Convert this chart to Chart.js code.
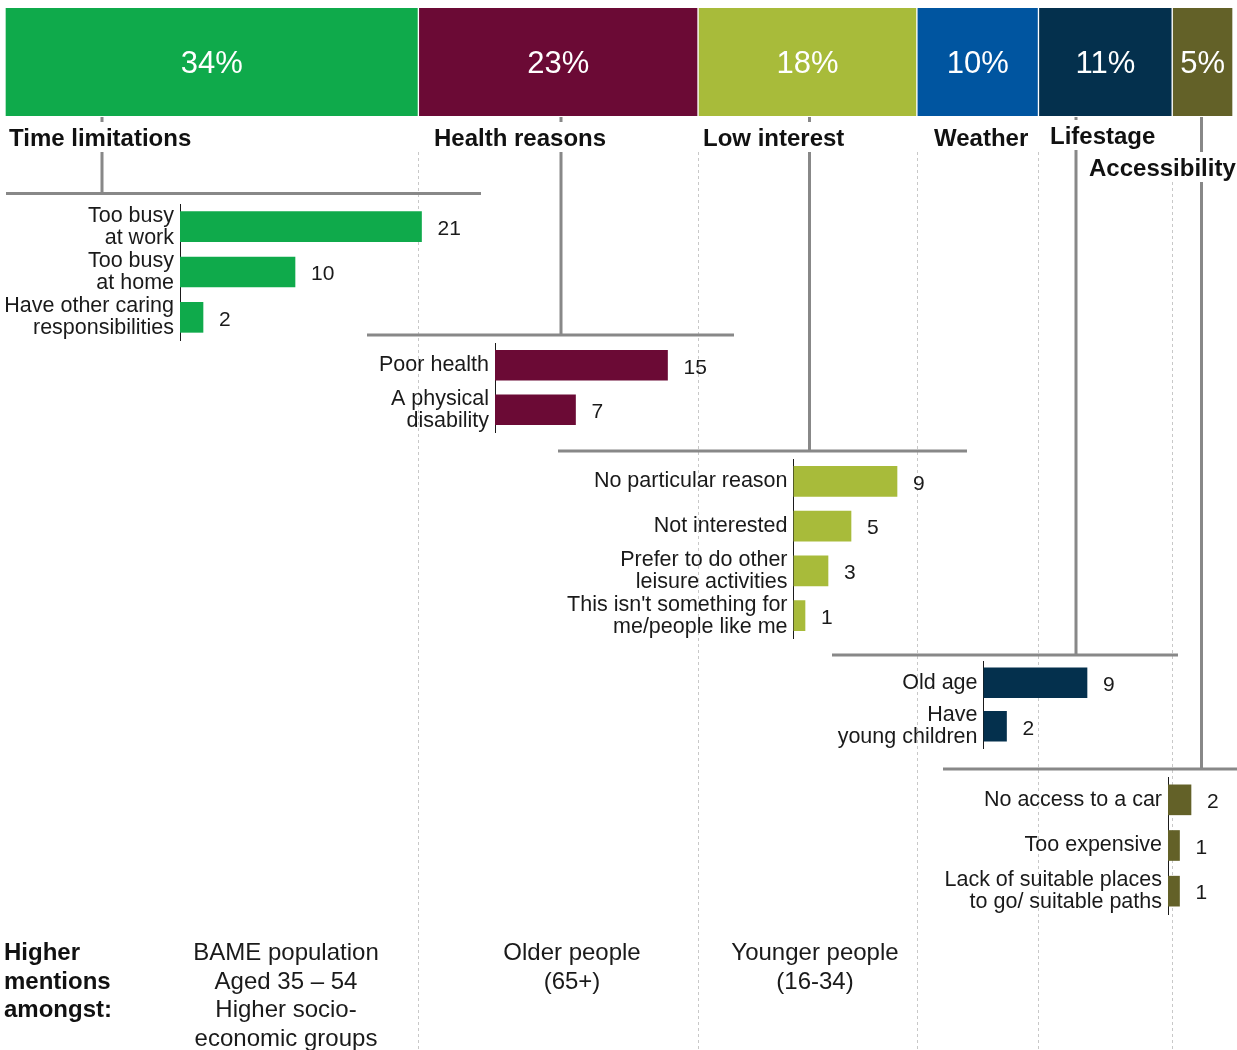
<!DOCTYPE html>
<html>
<head>
<meta charset="utf-8">
<title>Reasons for not visiting</title>
<script src="https://cdn.jsdelivr.net/npm/chart.js@4.4.1/dist/chart.umd.min.js"></script>
<style>
  html, body { margin: 0; padding: 0; background: #fff; overflow: hidden; }
  #stage { position: relative; width: 1237px; height: 1050px; }
  #stage canvas { position: absolute; }
</style>
</head>
<body>
<div id="stage">
  <canvas id="overview" width="1237" height="1050" style="left:0;top:0"></canvas>
</div>
<script>
// ---------- data ----------
const groupNames  = ['Time limitations', 'Health reasons', 'Low interest', 'Weather', 'Lifestage', 'Accessibility'];
const groupShares = [34, 23, 18, 10, 11, 5];
const groupColors = ['#0FAA4B', '#6B0A35', '#A8BB3A', '#0055A0', '#04304D', '#636128'];

const timeLabels = [['Too busy', 'at work'], ['Too busy', 'at home'], ['Have other caring', 'responsibilities']];
const timeValues = [21, 10, 2];

const healthLabels = ['Poor health', ['A physical', 'disability']];
const healthValues = [15, 7];

const interestLabels = ['No particular reason', 'Not interested', ['Prefer to do other', 'leisure activities'], ["This isn't something for", 'me/people like me']];
const interestValues = [9, 5, 3, 1];

const lifestageLabels = ['Old age', ['Have', 'young children']];
const lifestageValues = [9, 2];

const accessLabels = ['No access to a car', 'Too expensive', ['Lack of suitable places', 'to go/ suitable paths']];
const accessValues = [2, 1, 1];

const mentionTitle  = ['Higher', 'mentions', 'amongst:'];
const mentionGroups = [
  ['BAME population', 'Aged 35 \u2013 54', 'Higher socio-', 'economic groups'],
  ['Older people', '(65+)'],
  ['Younger people', '(16-34)']
];

// ---------- layout ----------
const FONT = '"Liberation Sans", Arial, Helvetica, sans-serif';
const UNIT = 11.5;     // px per point in the breakdown panels
const PAD_V = 32;      // vertical room round each panel for its labels
const RAIL_COLOR = '#888888';

// heading text: left x, baseline
const headingPos = [[9, 146], [434, 146], [703, 146], [934, 146], [1050, 144], [1089, 176]];
// drop lines from the headline bar down to each panel's rail
const connectors = [
  { x: 102,    y: 193.5, x0: 6,   x1: 481 },
  { x: 561,    y: 335,   x0: 367, x1: 734 },
  { x: 809.5,  y: 451,   x0: 558, x1: 967 },
  { x: 1076,   y: 655,   x0: 832, x1: 1178 },
  { x: 1201.5, y: 769,   x0: 943, x1: 1237 }
];
const mentionCenters = [286, 572, 815];
const mentionTop = 960, mentionStep = 28.7;

// ---------- headline bar + annotations ----------
const overviewDecor = {
  id: 'overviewDecor',
  afterDraw(chart) {
    const ctx = chart.ctx;
    const xs = chart.scales.x;
    ctx.save();

    // dashed guides at the segment boundaries
    ctx.strokeStyle = '#c8c8c8';
    ctx.lineWidth = 1;
    ctx.setLineDash([3, 3]);
    let cum = 0;
    for (let i = 0; i < groupShares.length - 1; i++) {
      cum += groupShares[i];
      const gx = Math.round(xs.getPixelForValue(cum)) + 0.5;
      ctx.beginPath();
      ctx.moveTo(gx, 152);
      ctx.lineTo(gx, 1050);
      ctx.stroke();
    }
    ctx.setLineDash([]);

    // connectors
    ctx.strokeStyle = RAIL_COLOR;
    ctx.lineWidth = 3;
    connectors.forEach(c => {
      ctx.beginPath();
      ctx.moveTo(c.x, 117);
      ctx.lineTo(c.x, c.y);
      ctx.moveTo(c.x0, c.y);
      ctx.lineTo(c.x1, c.y);
      ctx.stroke();
    });

    // group headings on white plates
    ctx.font = 'bold 24px ' + FONT;
    ctx.textAlign = 'left';
    ctx.textBaseline = 'alphabetic';
    groupNames.forEach((name, i) => {
      const [hx, hy] = headingPos[i];
      const w = ctx.measureText(name).width;
      ctx.fillStyle = '#fff';
      ctx.fillRect(hx - 2, hy - 24, w + 4, 30);
      ctx.fillStyle = '#111';
      ctx.fillText(name, hx, hy);
    });

    // share labels inside the headline bar
    ctx.font = '31px ' + FONT;
    ctx.fillStyle = '#fff';
    ctx.textAlign = 'center';
    ctx.textBaseline = 'middle';
    chart.data.datasets.forEach((ds, i) => {
      const bar = chart.getDatasetMeta(i).data[0];
      const cx = (bar.x + bar.base) / 2;
      ctx.fillText(ds.data[0] + '%', cx, bar.y + 2.5);
    });

    // "Higher mentions amongst" row
    ctx.textBaseline = 'alphabetic';
    ctx.font = 'bold 24px ' + FONT;
    ctx.fillStyle = '#111';
    ctx.textAlign = 'left';
    mentionTitle.forEach((t, j) => ctx.fillText(t, 4, mentionTop + j * mentionStep));
    ctx.font = '24px ' + FONT;
    ctx.fillStyle = '#1a1a1a';
    ctx.textAlign = 'center';
    mentionGroups.forEach((lines, k) => {
      lines.forEach((t, j) => ctx.fillText(t, mentionCenters[k], mentionTop + j * mentionStep));
    });

    ctx.restore();
  }
};

new Chart(document.getElementById('overview'), {
  type: 'bar',
  data: {
    labels: ['All reasons'],
    datasets: groupNames.map((name, i) => ({
      label: name,
      data: [groupShares[i]],
      backgroundColor: groupColors[i],
      borderColor: '#ffffff',
      borderWidth: { left: 1, right: 1, top: 0, bottom: 0 },
      borderSkipped: false,
      barPercentage: 1,
      categoryPercentage: 1
    }))
  },
  options: {
    indexAxis: 'y',
    responsive: false,
    animation: false,
    events: [],
    layout: { padding: { left: 5, right: 4, top: 8, bottom: 934 } },
    plugins: { legend: { display: false }, tooltip: { enabled: false } },
    scales: {
      x: { stacked: true, min: 0, max: groupShares.reduce((a, b) => a + b, 0), display: false },
      y: { stacked: true, display: false }
    }
  },
  plugins: [overviewDecor]
});

// ---------- breakdown panels ----------
const valueLabels = {
  id: 'valueLabels',
  afterDatasetsDraw(chart) {
    const ctx = chart.ctx;
    const vals = chart.data.datasets[0].data;
    ctx.save();
    ctx.font = '21px ' + FONT;
    ctx.fillStyle = '#1a1a1a';
    ctx.textAlign = 'left';
    ctx.textBaseline = 'middle';
    chart.getDatasetMeta(0).data.forEach((bar, i) => {
      ctx.fillText(String(vals[i]), bar.x + 16, bar.y + 2.5);
    });
    ctx.restore();
  }
};

const panels = [
  { labels: timeLabels,      values: timeValues,      color: groupColors[0], left: 0,   axisX: 180,   top: 204, bottom: 340, xMax: 25 },
  { labels: healthLabels,    values: healthValues,    color: groupColors[1], left: 360, axisX: 495,   top: 343, bottom: 432, xMax: 19 },
  { labels: interestLabels,  values: interestValues,  color: groupColors[2], left: 540, axisX: 793.5, top: 459, bottom: 638, xMax: 13 },
  { labels: lifestageLabels, values: lifestageValues, color: groupColors[4], left: 820, axisX: 983.5, top: 661, bottom: 748, xMax: 13 },
  { labels: accessLabels,    values: accessValues,    color: groupColors[5], left: 930, axisX: 1168,  top: 777, bottom: 914, xMax: 6 }
];

const stage = document.getElementById('stage');
panels.forEach(p => {
  const axisW = p.axisX - p.left;
  const areaH = p.bottom - p.top;
  const w = Math.ceil(axisW + p.xMax * UNIT);
  const h = areaH + 2 * PAD_V;
  const canvas = document.createElement('canvas');
  canvas.width = w;
  canvas.height = h;
  canvas.style.left = p.left + 'px';
  canvas.style.top = (p.top - PAD_V) + 'px';
  stage.appendChild(canvas);

  new Chart(canvas, {
    type: 'bar',
    data: {
      labels: p.labels,
      datasets: [{ data: p.values, backgroundColor: p.color, borderWidth: 0, barThickness: 30 }]
    },
    options: {
      indexAxis: 'y',
      responsive: false,
      animation: false,
      events: [],
      layout: { padding: { left: 0, right: 0, top: PAD_V, bottom: PAD_V } },
      plugins: { legend: { display: false }, tooltip: { enabled: false } },
      scales: {
        x: { display: false, min: 0, max: (w - axisW) / UNIT },
        y: {
          position: 'left',
          grid: { display: false, drawTicks: false },
          border: { display: true, color: '#1a1a1a', width: 1 },
          ticks: {
            autoSkip: false,
            padding: 6,
            color: '#1a1a1a',
            font: { family: FONT, size: 21.5, lineHeight: 1.02 }
          },
          afterFit(scale) { scale.width = axisW; }
        }
      }
    },
    plugins: [valueLabels]
  });
});
</script>
</body>
</html>
